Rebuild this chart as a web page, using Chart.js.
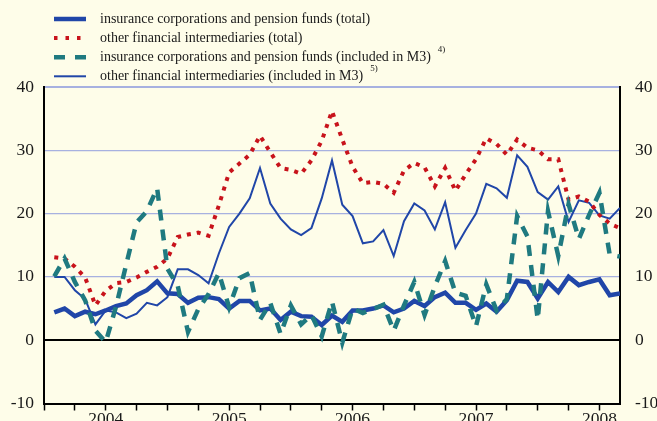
<!DOCTYPE html>
<html>
<head>
<meta charset="utf-8">
<script src="https://cdn.jsdelivr.net/npm/chart.js"></script>
<style>
  html, body { margin: 0; padding: 0; background: #fefde9; }
</style>
</head>
<body>
<canvas id="chart" width="657" height="421"></canvas>
<script>
// annual growth rates, monthly, Jan 2004 - Aug 2008 (x = months since Dec 2003)
const insTotal = [4.4, 5.0, 3.8, 4.5, 4.1, 4.7, 5.4, 5.8, 7.1, 7.9,
    9.3, 7.4, 7.3, 5.9, 6.7, 6.8, 6.5, 5.0, 6.2, 6.2,
    4.7, 5.0, 3.2, 4.5, 3.8, 3.7, 2.4, 3.9, 2.9, 4.7,
    4.7, 5.0, 5.5, 4.4, 5.0, 6.2, 5.4, 6.8, 7.5, 5.9,
    5.9, 4.8, 5.8, 4.5, 6.3, 9.4, 9.2, 6.6, 9.2, 7.6,
    10.0, 8.7, 9.2, 9.6, 7.1, 7.4];
const ofiTotal = [13.1, 12.9, 11.6, 9.9, 5.5, 7.8, 9.0, 9.2, 9.9, 10.8,
    11.6, 12.9, 16.3, 16.7, 17.0, 16.5, 21.3, 26.5, 27.9, 29.3,
    32.3, 29.7, 27.2, 26.9, 26.3, 28.4, 31.5, 36.2, 31.7, 27.4,
    24.8, 25.0, 24.7, 23.3, 26.8, 28.0, 27.3, 24.3, 27.2, 23.6,
    26.2, 28.6, 31.9, 31.0, 29.3, 31.7, 30.4, 30.0, 28.6, 28.6,
    22.2, 22.7, 21.9, 19.8, 18.4, 17.7];
const insM3 = [10.1, 12.9, 9.2, 6.3, 1.5, -0.3, 5.3, 12.0, 18.6, 20.4,
    24.0, 11.3, 8.6, 1.3, 4.9, 7.3, 10.6, 5.2, 9.8, 10.6,
    3.2, 5.9, 1.0, 5.5, 2.5, 4.0, 0.6, 6.1, -0.4, 5.0,
    4.3, 4.9, 5.6, 1.5, 5.5, 9.2, 4.0, 8.5, 12.5, 7.5,
    7.0, 2.2, 8.8, 4.7, 6.5, 19.6, 16.4, 3.3, 20.4, 13.3,
    21.5, 16.0, 19.8, 23.3, 13.5, 13.2];
const ofiM3 = [10.0, 10.0, 7.9, 6.5, 2.5, 4.7, 4.4, 3.5, 4.2, 5.9,
    5.5, 6.8, 11.2, 11.2, 10.3, 9.0, 13.7, 17.9, 20.0, 22.4,
    27.2, 21.6, 19.2, 17.5, 16.6, 17.7, 22.4, 28.4, 21.4, 19.6,
    15.3, 15.6, 17.4, 13.3, 18.8, 21.6, 20.5, 17.5, 21.8, 14.6,
    17.4, 20.0, 24.7, 24.0, 22.5, 29.2, 27.4, 23.4, 22.2, 24.3,
    18.7, 22.1, 21.7, 19.7, 19.2, 20.9];
const years = ['2004', '2005', '2006', '2007', '2008'];
const yMin = -10, yMax = 40, yStep = 10;

const serif = '"Liberation Serif", "Times New Roman", serif';
const textColor = '#1a1a1a';
const clear = 'rgba(0,0,0,0)';

function points(arr) {
    return arr.map((v, i) => ({x: i + 1, y: v}));
}

// quarter ticks along the time axis, year label at mid-year
const quarterTicks = [];
for (let m = 0; m <= 54; m += 3) quarterTicks.push({value: m});

// legend drawn by hand so the footnote markers can sit raised after the text
const legendPlugin = {
    id: 'legendPlugin',
    afterDraw(chart) {
        const ctx = chart.ctx;
        ctx.save();
        chart.data.datasets.forEach(function (ds, i) {
            const y = 19 + i * 19.1;
            ctx.beginPath();
            ctx.strokeStyle = ds.borderColor;
            ctx.lineWidth = ds.borderWidth;
            ctx.lineCap = 'butt';
            ctx.setLineDash(ds.legendDash || []);
            ctx.moveTo(54, y);
            ctx.lineTo(86, y);
            ctx.stroke();
            ctx.setLineDash([]);

            ctx.fillStyle = textColor;
            ctx.font = '14px ' + serif;
            ctx.textBaseline = 'middle';
            ctx.textAlign = 'left';
            ctx.fillText(ds.label, 100, y);
            if (ds.note) {
                const w = ctx.measureText(ds.label).width;
                ctx.font = '9px ' + serif;
                ctx.fillText(ds.note, 100 + w + 7, y - 8);
            }
        });
        ctx.restore();
    }
};

const myChart = new Chart(document.getElementById('chart'), {
    type: 'line',
    data: {
        datasets: [
            {
                label: 'insurance corporations and pension funds (total)',
                data: points(insTotal),
                borderColor: '#2046a8',
                borderWidth: 4.5,
                order: 1
            },
            {
                label: 'other financial intermediaries (total)',
                data: points(ofiTotal),
                borderColor: '#c8131b',
                borderWidth: 4,
                borderDash: [4, 6],
                legendDash: [3.5, 8],
                order: 2
            },
            {
                label: 'insurance corporations and pension funds (included in M3)',
                note: '4)',
                data: points(insM3),
                borderColor: '#1f7a80',
                borderWidth: 4.5,
                borderDash: [11, 9],
                legendDash: [11, 10],
                order: 0
            },
            {
                label: 'other financial intermediaries (included in M3)',
                note: '5)',
                data: points(ofiM3),
                borderColor: '#2046a8',
                borderWidth: 2,
                order: 3
            }
        ]
    },
    options: {
        responsive: false,
        animation: false,
        layout: {padding: {top: 87, left: 0, right: 0, bottom: 0}},
        elements: {
            point: {radius: 0},
            line: {tension: 0, borderCapStyle: 'butt'}
        },
        plugins: {
            legend: {display: false},
            tooltip: {enabled: false}
        },
        scales: {
            x: {
                type: 'linear',
                min: 0,
                max: 56,
                afterFit: s => { s.height = 17.5; },
                afterBuildTicks: s => { s.ticks = quarterTicks.slice(); },
                border: {color: '#000', width: 2},
                grid: {
                    drawOnChartArea: false,
                    tickLength: 7,
                    tickColor: '#000',
                    tickWidth: 1.5
                },
                ticks: {
                    autoSkip: false,
                    maxRotation: 0,
                    padding: -2,
                    color: textColor,
                    font: {family: serif, size: 17.5},
                    callback: v => ((v - 6) % 12 === 0 ? years[(v - 6) / 12] : '')
                }
            },
            y: {
                position: 'left',
                min: yMin,
                max: yMax,
                afterFit: s => { s.width = 44; },
                border: {color: '#000', width: 2},
                grid: {
                    tickLength: 10,
                    tickColor: clear,
                    color: c => (c.tick.value === 0 ? '#000' : (c.tick.value === yMin ? clear : '#a7b1e0')),
                    lineWidth: c => (c.tick.value === 0 ? 2 : (c.tick.value === yMax ? 2 : 1.2))
                },
                ticks: {
                    stepSize: yStep,
                    padding: 0,
                    color: textColor,
                    font: {family: serif, size: 17.5}
                }
            },
            y2: {
                axis: 'y',
                position: 'right',
                min: yMin,
                max: yMax,
                afterFit: s => { s.width = 37; },
                border: {color: '#000', width: 2},
                grid: {drawOnChartArea: false, tickLength: 15, tickColor: clear},
                ticks: {
                    stepSize: yStep,
                    padding: 0,
                    color: textColor,
                    font: {family: serif, size: 17.5}
                }
            }
        }
    },
    plugins: [legendPlugin]
});
</script>
</body>
</html>
